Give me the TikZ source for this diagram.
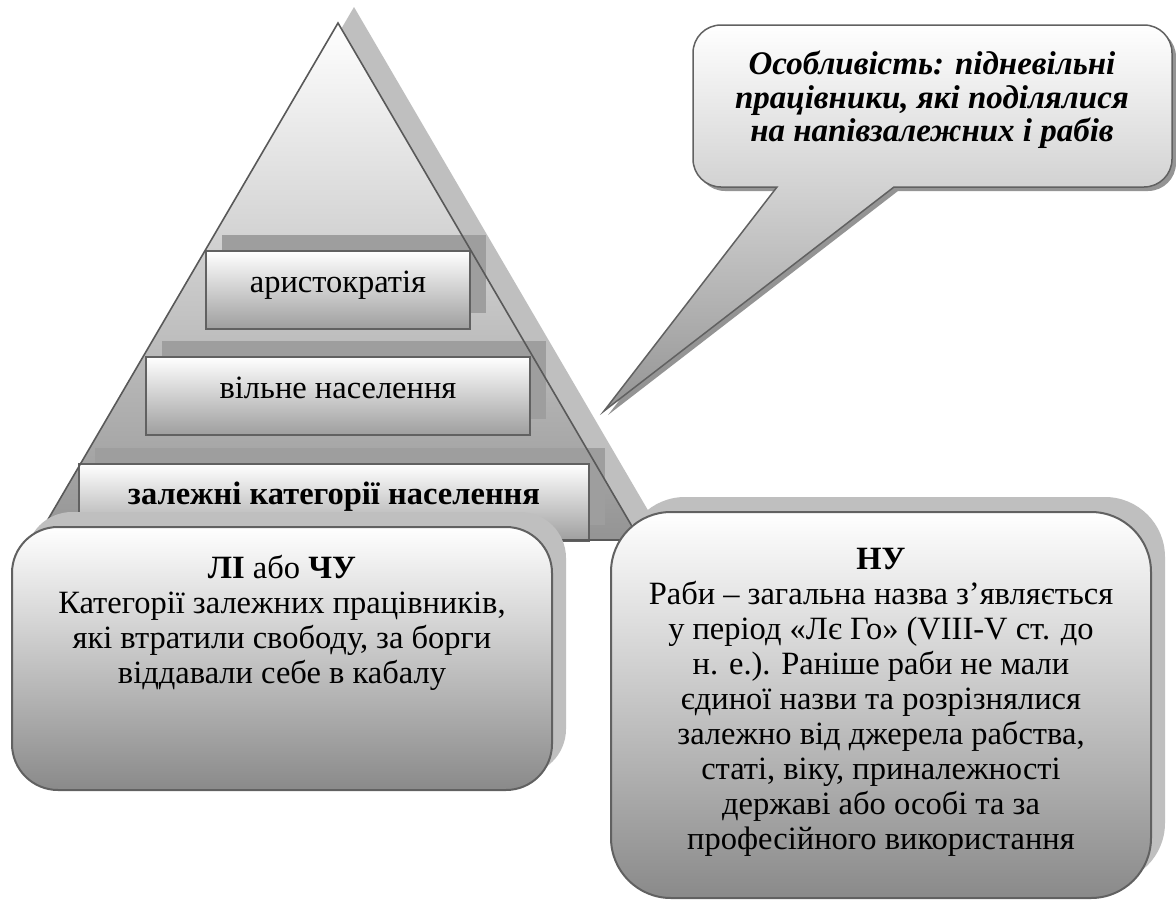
\documentclass[tikz,border=0pt]{standalone}
\usepackage{fontspec}
\setmainfont{Liberation Serif}
\usetikzlibrary{positioning,shadows}

\begin{document}
\begin{tikzpicture}[
    x=1pt, y=-1pt,
    node distance=26pt,
    lvl/.style={draw=black!62, line width=2pt, top color=white, bottom color=black!38,
        minimum height=78pt, inner sep=0pt, text height=12pt, text depth=8pt,
        font=\fontsize{32.5}{35}\selectfont,
        drop shadow={shadow xshift=16pt, shadow yshift=16pt, fill=black!38, opacity=1}},
    rbox/.style={draw=black!62, line width=2pt, top color=white, bottom color=black!46,
        minimum width=540pt, inner sep=0pt,
        drop shadow={shadow xshift=14pt, shadow yshift=15pt, fill=black!25, opacity=1}},
    txt/.style={align=center, inner sep=0pt, font=\fontsize{32.5}{35}\selectfont}
]
\path[use as bounding box, fill=white] (0,0) rectangle (1176,908);

% pyramid
\fill[black!25, shift={(16,-16)}] (338,23) -- (36,540) -- (640,540) -- cycle;
\shade[top color=white, bottom color=black!42] (338,23) -- (36,540) -- (640,540) -- cycle;

\node[lvl, minimum width=264pt] (aristo) at (338,290) {аристократія};
\node[lvl, minimum width=384pt, below=26pt of aristo] (free) {вільне населення};
\node[lvl, minimum width=510pt, minimum height=77pt, below=27pt of free, xshift=-4pt] (dep)
    {\textbf{залежні категорії населення}};

\draw[black!65, line width=1.6pt] (338,23) -- (36,540) -- (640,540) -- cycle;

% callout
\draw[draw=black!62, line width=1.5pt, top color=white, bottom color=black!42,
    drop shadow={shadow xshift=4pt, shadow yshift=-4pt, fill=black!42, opacity=1}]
    (604,411) -- (777,187) -- (721,187) .. controls (705.5,187) and (693,174.5) .. (693,159)
    -- (693,53) .. controls (693,37.5) and (705.5,25) .. (721,25)
    -- (1144,25) .. controls (1159.5,25) and (1172,37.5) .. (1172,53)
    -- (1172,159) .. controls (1172,174.5) and (1159.5,187) .. (1144,187)
    -- (894,187) -- cycle;
\node[txt, anchor=north, font=\fontsize{33}{33.5}\selectfont\bfseries\itshape] (note) at (932,51)
    {Особливість: підневільні\\працівники, які поділялися\\на напівзалежних і рабів};

% bottom boxes
\node[rbox, rounded corners=46pt, minimum height=263pt] (lb) at (282,658.5) {};
\node[txt, below=29pt of lb.north] (lbt)
    {\textbf{ЛІ} або \textbf{ЧУ}\\Категорії залежних працівників,\\які втратили свободу, за борги\\віддавали себе в кабалу};

\node[rbox, rounded corners=60pt, minimum height=386pt] (rb) at (881,705) {};
\node[txt, below=37pt of rb.north] (rbt)
    {\textbf{НУ}\\Раби – загальна назва з’являється\\у період «Лє Го» (VIII-V ст. до\\н. е.). Раніше раби не мали\\єдиної назви та розрізнялися\\залежно від джерела рабства,\\статі, віку, приналежності\\державі або особі та за\\професійного використання};
\end{tikzpicture}
\end{document}
